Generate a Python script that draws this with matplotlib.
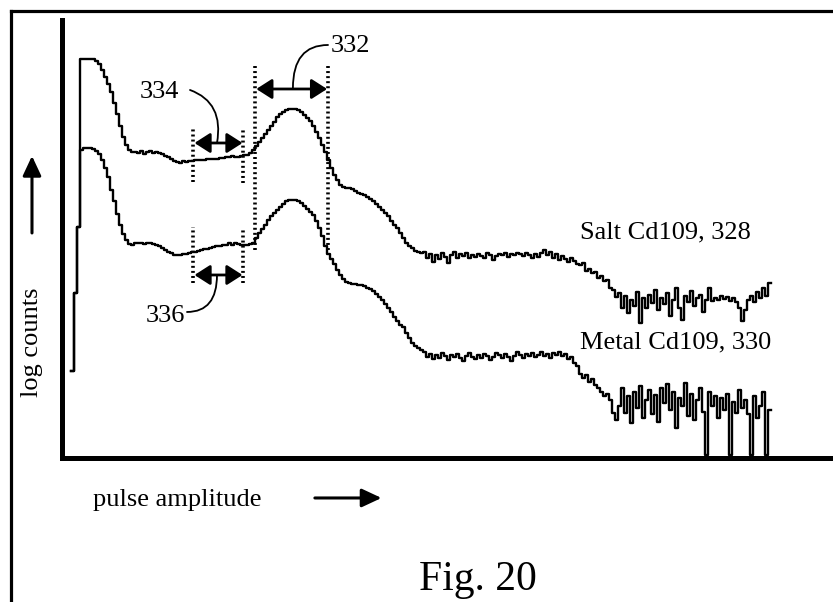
import matplotlib
matplotlib.use('Agg')
import matplotlib.pyplot as plt
from matplotlib.lines import Line2D
from matplotlib.patches import FancyArrowPatch
import numpy as np

plt.rcParams['font.family'] = 'Liberation Serif'
plt.rcParams['font.size'] = 19

# Spektren, Kanal 3..235, Hoehe in log counts (willkuerliche Einheiten)
first_channel = 3

salt_cd109 = [
    87, 165, 231, 399, 399, 399, 399, 399, 397, 394, 388, 381, 374, 366, 355, 344, 332, 321, 313, 308,
    306, 306, 305, 307, 304, 306, 307, 305, 306, 305, 304, 302, 301, 299, 297, 296, 295, 297, 296, 297,
    297, 298, 298, 298, 298, 299, 299, 299, 299, 300, 300, 301, 301, 302, 301, 301, 302, 303, 303, 305,
    308, 312, 316, 320, 324, 328, 332, 336, 341, 344, 346, 348, 349, 349, 349, 348, 346, 343, 340, 337,
    332, 326, 320, 313, 306, 298, 290, 283, 278, 273, 271, 270, 270, 269, 267, 265, 264, 263, 261, 259,
    257, 254, 251, 248, 245, 242, 237, 233, 230, 225, 220, 215, 212, 210, 207, 206, 205, 206, 200, 204,
    196, 203, 199, 205, 201, 195, 203, 206, 200, 204, 202, 205, 200, 203, 201, 204, 202, 200, 205, 203,
    198, 202, 204, 203, 205, 201, 204, 203, 205, 204, 202, 205, 203, 200, 204, 201, 205, 208, 203, 206,
    200, 204, 198, 202, 199, 196, 200, 197, 194, 193, 195, 187, 189, 185, 186, 180, 182, 177, 178, 170,
    168, 161, 165, 150, 162, 145, 158, 152, 166, 135, 160, 150, 163, 155, 168, 148, 160, 154, 165, 142,
    158, 170, 150, 138, 162, 156, 167, 152, 160, 163, 146, 158, 170, 157, 160, 158, 162, 159, 161, 157,
    160, 156, 150, 137, 148, 158, 162, 156, 166, 160, 170, 162, 175,
]

metal_cd109 = [
    87, 165, 231, 308, 310, 310, 310, 309, 307, 304, 298, 290, 281, 268, 257, 244, 233, 224, 218, 214,
    213, 215, 215, 215, 214, 215, 215, 214, 213, 212, 210, 208, 206, 205, 203, 203, 203, 204, 204, 205,
    206, 206, 207, 208, 209, 209, 210, 211, 212, 212, 213, 213, 215, 213, 215, 214, 213, 213, 213, 214,
    215, 220, 225, 229, 233, 238, 242, 245, 248, 251, 254, 257, 258, 258, 258, 257, 255, 252, 249, 246,
    243, 237, 230, 222, 212, 204, 199, 194, 188, 183, 179, 176, 175, 174, 174, 173, 173, 172, 170, 169,
    167, 164, 161, 158, 154, 150, 146, 141, 137, 133, 131, 125, 120, 115, 112, 110, 108, 106, 101, 104,
    99, 103, 100, 105, 102, 98, 103, 101, 104, 100, 97, 102, 105, 101, 99, 103, 100, 104, 102, 98,
    101, 105, 103, 100, 104, 101, 97, 102, 106, 103, 100, 104, 102, 105, 101, 103, 106, 102, 104, 100,
    105, 103, 106, 102, 104, 99, 101, 95, 92, 84, 80, 83, 76, 79, 73, 70, 66, 62, 64, 58,
    45, 38, 52, 70, 45, 62, 35, 66, 50, 72, 40, 58, 68, 44, 63, 36, 70, 55, 74, 48,
    66, 30, 60, 52, 75, 42, 64, 38, 58, 70, 46, 3, 66, 52, 62, 40, 60, 48, 64, 3,
    56, 45, 68, 50, 58, 44, 3, 62, 40, 52, 66, 3, 48,
]

fig = plt.figure(figsize=(8.33, 6.02), dpi=100)
ax = fig.add_axes([0.075, 0.2384, 0.925, 0.7284])

ch = np.arange(first_channel, first_channel + len(salt_cd109))
# letzte Stufe noch zu Ende zeichnen
ax.step(np.append(ch, ch[-1] + 1), salt_cd109 + [salt_cd109[-1]], where='post', color='black', lw=1.7)
ch = np.arange(first_channel, first_channel + len(metal_cd109))
ax.step(np.append(ch, ch[-1] + 1), metal_cd109 + [metal_cd109[-1]], where='post', color='black', lw=1.7)

ax.set_xlim(0, 256.8)
ax.set_ylim(0, 438.5)
ax.set_xticks([])
ax.set_yticks([])
for s in ['top', 'right']:
    ax.spines[s].set_visible(False)
for s in ['left', 'bottom']:
    ax.spines[s].set_linewidth(3.6)
    ax.spines[s].set_color('black')

# Fensterbereiche (gepunktet)
dots = dict(color='black', lw=2.6, linestyle=(0, (0.55, 0.85)))
ax.plot([43.6, 43.6], [276.5, 331.5], **dots)
ax.plot([60.3, 60.3], [275.5, 328.5], **dots)
ax.plot([43.6, 43.6], [175.5, 231.5], **dots)
ax.plot([60.3, 60.3], [175.5, 228.5], **dots)
ax.plot([64.2, 64.2], [208.5, 392.5], **dots)
ax.plot([88.6, 88.6], [208.5, 392.5], **dots)

dbl = dict(arrowstyle='<|-|>,head_length=0.5,head_width=0.32', color='black', lw=2.0,
           shrinkA=0, shrinkB=0)
ax.annotate('', xy=(64.6, 369.5), xytext=(88.2, 369.5), arrowprops=dbl)
ax.annotate('', xy=(44.0, 315.5), xytext=(60.0, 315.5), arrowprops=dbl)
ax.annotate('', xy=(44.0, 183.5), xytext=(60.0, 183.5), arrowprops=dbl)

lead = dict(arrowstyle='-', color='black', lw=1.3, shrinkA=0, shrinkB=0)
ax.annotate('', xy=(76.8, 370.5), xytext=(88.5, 413.5),
            arrowprops=dict(connectionstyle='angle3,angleA=180,angleB=90', **lead))
ax.text(89.5, 412.5, '332', ha='left', va='center')
ax.annotate('', xy=(51.5, 315.5), xytext=(42.5, 368.5),
            arrowprops=dict(connectionstyle='angle3,angleA=-20,angleB=80', **lead))
ax.text(39.0, 366.5, '334', ha='right', va='center')
ax.annotate('', xy=(51.5, 183.5), xytext=(41.5, 146.5),
            arrowprops=dict(connectionstyle='angle3,angleA=0,angleB=90', **lead))
ax.text(41.0, 142.5, '336', ha='right', va='center')

ax.text(172.5, 226.5, 'Salt Cd109, 328', ha='left', va='center')
ax.text(172.5, 116.5, 'Metal Cd109, 330', ha='left', va='center')

# Achsenbeschriftung mit Pfeilen
fig.text(0.0384, 0.432, 'log counts', rotation=90, ha='center', va='center')
fig.text(0.2125, 0.1694, 'pulse amplitude', ha='center', va='center')
arr = dict(arrowstyle='-|>,head_length=0.6,head_width=0.28', color='black', lw=2.2,
           shrinkA=0, shrinkB=0, mutation_scale=20, transform=fig.transFigure)
fig.patches.append(FancyArrowPatch((0.0384, 0.613), (0.0384, 0.741), **arr))
fig.patches.append(FancyArrowPatch((0.378, 0.1728), (0.458, 0.1728), **arr))
fig.text(0.574, 0.02, 'Fig. 20', ha='center', va='baseline', fontsize=30)

# Rahmen
fig.add_artist(Line2D([0.0132, 1.0], [0.981, 0.981], color='black', lw=2.3))
fig.add_artist(Line2D([0.0132, 0.0132], [0.0, 0.981], color='black', lw=2.3))

plt.savefig('out.png', dpi=100)
